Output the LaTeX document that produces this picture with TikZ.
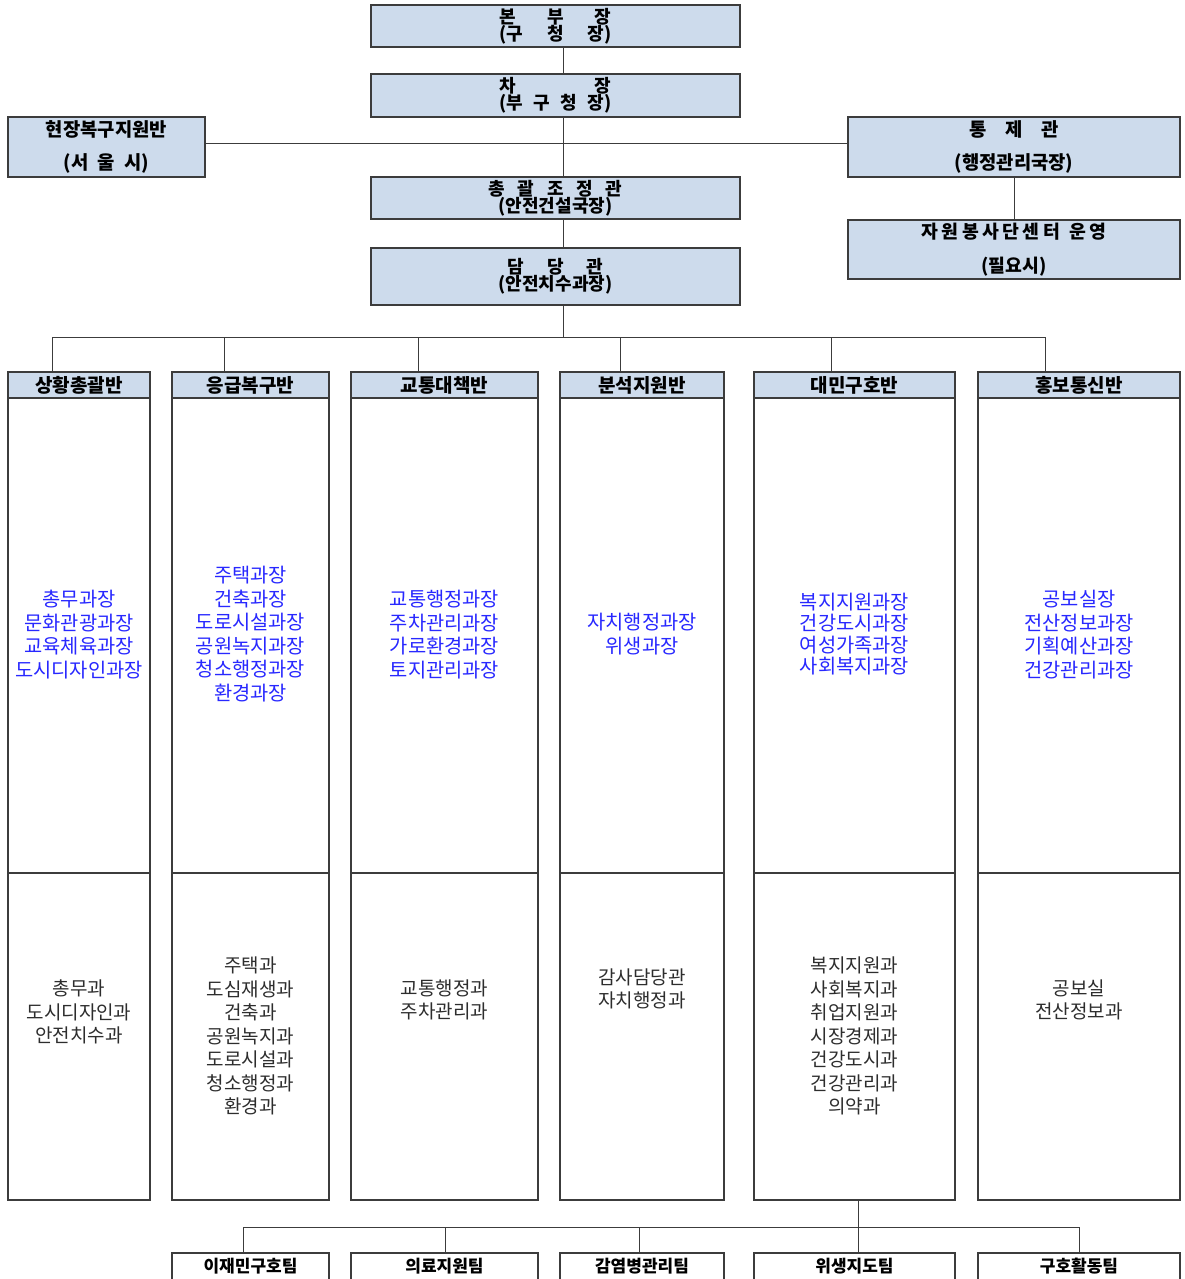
\documentclass[tikz,border=0pt]{standalone}
\usepackage{fontspec}
\setmainfont{Noto Sans CJK KR}
\definecolor{boxfill}{RGB}{205,219,236}
\definecolor{txtblue}{RGB}{40,40,255}
\definecolor{txtgray}{RGB}{45,45,45}
\definecolor{edge}{RGB}{60,60,60}
\newcommand\tightls{\lineskiplimit-100pt\relax}
\tikzset{
  box/.style={draw=edge, line width=1.2pt, inner sep=0pt, outer sep=0pt, align=center},
  topbox/.style={box, fill=boxfill, font={\bfseries\fontsize{18}{17}\selectfont\tightls}},
  widebox/.style={box, fill=boxfill, font={\bfseries\fontsize{18.8}{33}\selectfont\tightls}},
  hdr/.style={box, fill=boxfill, minimum height=26pt, font={\bfseries\fontsize{19}{20}\selectfont}},
  colbox/.style={box, fill=white},
  teambox/.style={box, fill=white, minimum height=60pt},
  teamtxt/.style={inner sep=0pt, font={\bfseries\fontsize{17}{20}\selectfont}},
  bluetxt/.style={inner sep=0pt, align=center, text=txtblue, font={\fontsize{19.8}{23.5}\selectfont\tightls}},
  graytxt/.style={inner sep=0pt, align=center, text=txtgray, font={\fontsize{19}{23.5}\selectfont\tightls}},
  conn/.style={draw=edge, line width=0.9pt}
}
\begin{document}
\begin{tikzpicture}[x=1pt,y=-1pt]
\clip (0,0) rectangle (1184,1279);
\fill[white] (0,0) rectangle (1184,1279);

% top chain
\node[topbox, minimum width=369pt, minimum height=42pt] (bbj) at (555.5,26)
  {\makebox[112pt]{본\hfill 부\hfill 장}\\\makebox[112pt]{(구\hfill 청\hfill 장)}};
\node[topbox, minimum width=369pt, minimum height=43pt] (cj) at (555.5,95.5)
  {\makebox[112pt]{차\hfill 장}\\\makebox[112pt]{(부\hfill 구\hfill 청\hfill 장)}};
\node[topbox, minimum width=369pt, minimum height=42pt] (cg) at (555.5,198)
  {\makebox[134pt]{총\hfill 괄\hfill 조\hfill 정\hfill 관}\\(안전건설국장)};
\node[topbox, minimum width=369pt, minimum height=57pt] (dd) at (555.5,276.5)
  {\makebox[96pt]{담\hfill 당\hfill 관}\\(안전치수과장)};

\node[widebox, minimum width=197pt, minimum height=60pt] (hj) at (106.5,147)
  {현장복구지원반\\\makebox[86pt]{(서\hfill 울\hfill 시)}};
\node[widebox, minimum width=332pt, minimum height=60pt] (tj) at (1014,147)
  {\makebox[90pt]{통\hfill 제\hfill 관}\\(행정관리국장)};
\node[widebox, minimum width=332pt, minimum height=59pt, font={\bfseries\fontsize{18.3}{34}\selectfont\tightls}] (jw) at (1014,249.5)
  {\makebox[185pt]{자\hfill 원\hfill 봉\hfill 사\hfill 단\hfill 센\hfill 터\hfill\hspace{6pt}운\hfill 영}\\(필요시)};

\draw[conn] ([xshift=7.5pt]bbj.south) -- ([xshift=7.5pt]cj.north);
\draw[conn] ([xshift=7.5pt]cj.south) -- ([xshift=7.5pt]cg.north);
\draw[conn] ([xshift=7.5pt]cg.south) -- ([xshift=7.5pt]dd.north);
\draw[conn] ([yshift=4pt]hj.east) -- ([yshift=4pt]tj.west);
\draw[conn] (tj.south) -- (jw.north);
\draw[conn] ([xshift=7.5pt]dd.south) -- ++(0,32) coordinate (bus);

% columns
\foreach \i/\cx/\w/\name in {1/79/142/상황총괄반, 2/250.5/157/응급복구반, 3/444.5/187/교통대책반, 4/642/164/분석지원반, 5/854.5/201/대민구호반, 6/1079/202/홍보통신반}{
  \node[colbox, minimum width=\w pt, minimum height=475pt] (b\i) at (\cx,635.5) {};
  \node[colbox, minimum width=\w pt, minimum height=327pt] (l\i) at (\cx,1036.5) {};
  \node[hdr, minimum width=\w pt] (h\i) at (\cx,385) {\name};
}

\draw[conn] (bus) -| ([xshift=-27pt]h1.north);
\draw[conn] (bus) -| ([xshift=-26.5pt]h2.north);
\draw[conn] (bus) -| ([xshift=-26.5pt]h3.north);
\draw[conn] (bus) -| ([xshift=-22pt]h4.north);
\draw[conn] (bus) -| ([xshift=-23.5pt]h5.north);
\draw[conn] (bus) -| ([xshift=-34pt]h6.north);

% body texts
\node[bluetxt] (bt1) at (79,634.5) {총무과장\\문화관광과장\\교육체육과장\\도시디자인과장};
\node[bluetxt] (bt2) at (250.5,634) {주택과장\\건축과장\\도로시설과장\\공원녹지과장\\청소행정과장\\환경과장};
\node[bluetxt] (bt3) at (444.5,634.5) {교통행정과장\\주차관리과장\\가로환경과장\\토지관리과장};
\node[bluetxt] (bt4) at (642,634) {자치행정과장\\위생과장};
\node[bluetxt, font={\fontsize{19.8}{21.3}\selectfont\tightls}] (bt5) at (854.5,634) {복지지원과장\\건강도시과장\\여성가족과장\\사회복지과장};
\node[bluetxt] (bt6) at (1079,634.5) {공보실장\\전산정보과장\\기획예산과장\\건강관리과장};

% lower texts
\node[graytxt] (lt1) at (79,1012) {총무과\\도시디자인과\\안전치수과};
\node[graytxt] (lt2) at (250.5,1036) {주택과\\도심재생과\\건축과\\공원녹지과\\도로시설과\\청소행정과\\환경과};
\node[graytxt] (lt3) at (444.5,1000) {교통행정과\\주차관리과};
\node[graytxt] (lt4) at (642,989) {감사담당관\\자치행정과};
\node[graytxt] (lt5) at (854.5,1036) {복지지원과\\사회복지과\\취업지원과\\시장경제과\\건강도시과\\건강관리과\\의약과};
\node[graytxt] (lt6) at (1079,1000) {공보실\\전산정보과};

% teams
\foreach \i/\cx/\w/\name in {1/250.5/157/이재민구호팀, 2/444.5/187/의료지원팀, 3/642/164/감염병관리팀, 4/854.5/201/위생지도팀, 5/1079/202/구호활동팀}{
  \node[teambox, minimum width=\w pt] (t\i) at (\cx,1283) {};
  \node[teamtxt] (tt\i) at (\cx,1266) {\name};
}
\draw[conn] ([xshift=3.5pt]l5.south) -- ++(0,27) coordinate (bbus);
\draw[conn] (bbus) -| ([xshift=-7.5pt]t1.north);
\draw[conn] (bbus) -| ([xshift=0.5pt]t2.north);
\draw[conn] (bbus) -| ([xshift=-3pt]t3.north);
\draw[conn] (bbus) -- (bbus |- t4.north);
\draw[conn] (bbus) -| (t5.north);
\end{tikzpicture}
\end{document}
